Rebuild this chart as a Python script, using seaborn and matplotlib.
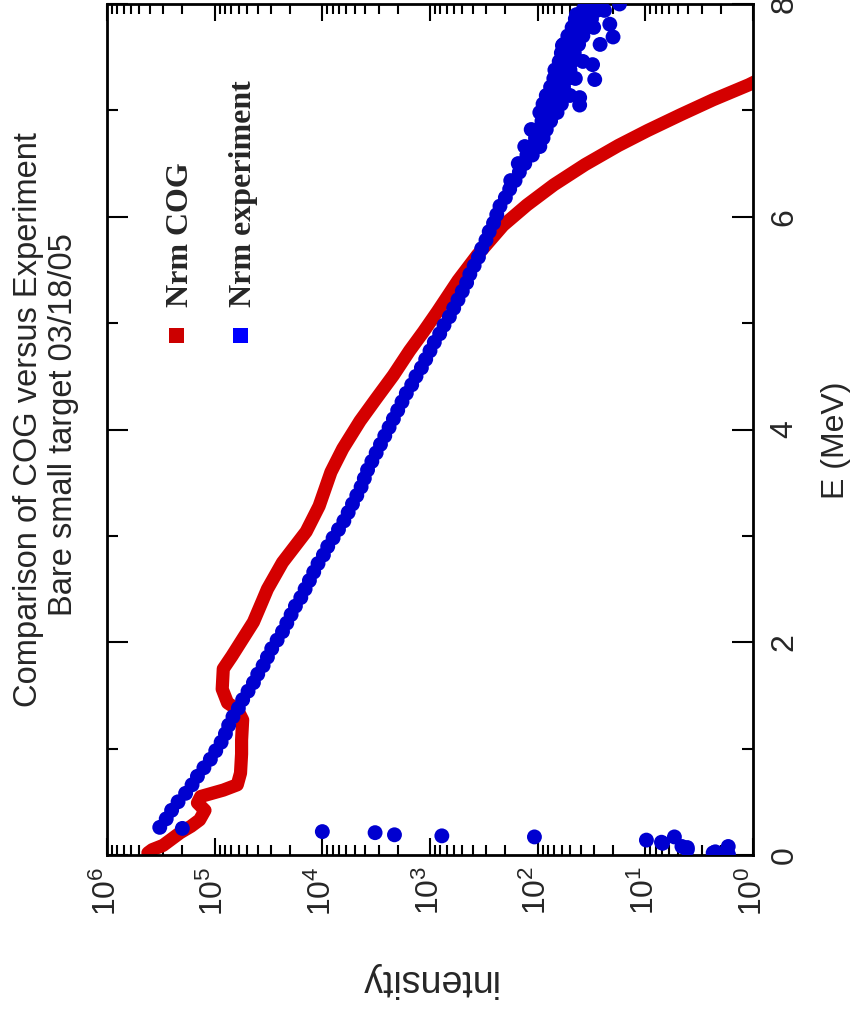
import numpy as np
import pandas as pd
import matplotlib
matplotlib.use("Agg")
import matplotlib.pyplot as plt
import seaborn as sns
from matplotlib.patches import Rectangle
from matplotlib.ticker import FixedLocator, FixedFormatter, LogLocator, NullFormatter, MultipleLocator
from matplotlib import font_manager as fm

# ---------------- data ----------------
# COG calculation: energy (MeV) and log10(intensity)
cog_E = [0.02, 0.05, 0.09, 0.15, 0.21, 0.27, 0.33, 0.42, 0.46, 0.49, 0.55, 0.61,
         0.66, 0.77, 0.95, 1.08, 1.27, 1.37, 1.43, 1.56, 1.75, 1.87, 2.03, 2.19,
         2.38, 2.50, 2.75, 3.04, 3.28, 3.60, 3.82, 4.08, 4.29, 4.51, 4.74, 4.92,
         5.11, 5.40, 5.64, 5.92, 6.11, 6.30, 6.49, 6.67, 6.81, 6.96, 7.10, 7.24, 7.29]
cog_log10_I = [5.62, 5.58, 5.48, 5.40, 5.32, 5.22, 5.14, 5.09, 5.13, 5.16, 5.13, 4.92,
               4.79, 4.76, 4.75, 4.75, 4.74, 4.79, 4.88, 4.93, 4.92, 4.84, 4.74, 4.64,
               4.56, 4.51, 4.37, 4.15, 4.03, 3.92, 3.81, 3.65, 3.50, 3.34, 3.19, 3.06,
               2.93, 2.74, 2.56, 2.32, 2.10, 1.85, 1.56, 1.25, 0.98, 0.67, 0.37, 0.04, -0.06]

# Experiment: energy (MeV) and log10(intensity)
exp_E = [0.00, 0.01, 0.02, 0.03, 0.05, 0.07, 0.08, 0.08, 0.11, 0.12, 0.14, 0.17, 0.17,
         0.18, 0.19, 0.21, 0.22, 0.25,
         0.26, 0.34, 0.42, 0.50, 0.58, 0.66, 0.74, 0.82, 0.90, 0.98, 1.06, 1.14,
         1.22, 1.30, 1.38, 1.46, 1.54, 1.62, 1.70, 1.78, 1.86, 1.94, 2.02, 2.10,
         2.18, 2.26, 2.34, 2.42, 2.50, 2.58, 2.66, 2.74, 2.82, 2.90, 2.98, 3.06,
         3.14, 3.22, 3.30, 3.38, 3.46, 3.54, 3.62, 3.70, 3.78, 3.86, 3.94, 4.02,
         4.10, 4.18, 4.26, 4.34, 4.42, 4.50, 4.58, 4.66, 4.74, 4.82, 4.90, 4.98,
         5.06, 5.14, 5.22, 5.30, 5.38, 5.46, 5.54, 5.62, 5.70, 5.78, 5.86, 5.94,
         6.02, 6.10, 6.18, 6.26, 6.34, 6.34, 6.42, 6.50, 6.50, 6.58, 6.58,
         6.66, 6.66, 6.66, 6.74, 6.74, 6.82, 6.82, 6.82, 6.90, 6.90,
         6.98, 6.98, 6.98, 7.05, 7.06, 7.06, 7.06, 7.12, 7.14, 7.14, 7.14, 7.14,
         7.22, 7.22, 7.22, 7.29, 7.30, 7.30, 7.30, 7.30, 7.38, 7.38, 7.38, 7.43,
         7.46, 7.46, 7.46, 7.46, 7.54, 7.54, 7.54, 7.61, 7.62, 7.62, 7.62, 7.62,
         7.69, 7.70, 7.70, 7.70, 7.78, 7.78, 7.78, 7.78, 7.81, 7.86, 7.86, 7.86,
         7.90, 7.94, 7.94, 7.94, 7.94, 8.00, 8.00, 8.00, 8.00]
exp_log10_I = [0.23, 0.23, 0.37, 0.35, 0.61, 0.61, 0.66, 0.23, 0.84, 0.85, 0.99, 0.73, 2.03,
               2.89, 3.33, 3.51, 4.00, 5.30,
               5.51, 5.45, 5.40, 5.34, 5.27, 5.21, 5.16, 5.10, 5.04, 4.99, 4.94, 4.90,
               4.87, 4.83, 4.78, 4.74, 4.69, 4.64, 4.60, 4.55, 4.51, 4.47, 4.42, 4.37,
               4.33, 4.29, 4.25, 4.20, 4.16, 4.12, 4.08, 4.04, 3.99, 3.95, 3.90, 3.85,
               3.80, 3.76, 3.72, 3.68, 3.64, 3.61, 3.58, 3.54, 3.50, 3.46, 3.42, 3.38,
               3.34, 3.30, 3.26, 3.22, 3.17, 3.13, 3.08, 3.04, 3.00, 2.96, 2.91, 2.87,
               2.82, 2.78, 2.74, 2.70, 2.66, 2.63, 2.59, 2.55, 2.52, 2.48, 2.45, 2.41,
               2.38, 2.35, 2.30, 2.26, 2.21, 2.25, 2.17, 2.12, 2.18, 2.10, 2.05,
               2.06, 2.12, 1.98, 2.02, 1.95, 2.00, 2.06, 1.92, 1.96, 1.88,
               1.90, 1.98, 1.82, 1.61, 1.88, 1.95, 1.78, 1.61, 1.86, 1.80, 1.92, 1.70,
               1.82, 1.76, 1.88, 1.47, 1.79, 1.85, 1.72, 1.65, 1.77, 1.70, 1.84, 1.49,
               1.75, 1.80, 1.68, 1.58, 1.73, 1.66, 1.78, 1.77, 1.70, 1.62, 1.76, 1.42,
               1.30, 1.65, 1.72, 1.58, 1.62, 1.68, 1.55, 1.48, 1.33, 1.58, 1.65, 1.50,
               1.64, 1.52, 1.58, 1.45, 1.38, 1.50, 1.56, 1.24, 1.49]

series_labels = ["Nrm COG", "Nrm experiment"]
series_colors = ["#d40000", "#0000d0"]
legend_colors = ["#cc0000", "#0000ff"]

x_tick_values = [1e6, 1e5, 1e4, 1e3, 1e2, 1e1, 1e0]
x_tick_labels = ["10$^{6}$", "10$^{5}$", "10$^{4}$", "10$^{3}$", "10$^{2}$", "10$^{1}$", "10$^{0}$"]
e_tick_values = [0, 2, 4, 6, 8]
e_tick_labels = ["0", "2", "4", "6", "8"]

title_lines = ["Comparison of COG versus Experiment", "Bare small target 03/18/05"]

# ---------------- style ----------------
sns.set_style("ticks")
names = {f.name for f in fm.fontManager.ttflist}
sans = "Liberation Sans" if "Liberation Sans" in names else "DejaVu Sans"
title_font = "Liberation Sans Narrow" if "Liberation Sans Narrow" in names else sans
serif = "Liberation Serif" if "Liberation Serif" in names else "DejaVu Serif"
plt.rcParams["font.family"] = [sans, "DejaVu Sans"]
plt.rcParams["mathtext.default"] = "regular"
plt.rcParams["axes.linewidth"] = 2.0

W, H = 858, 1009
L, R, T, B = 107, 753, 4, 855
fig = plt.figure(figsize=(W / 100, H / 100), dpi=100)
ax = fig.add_axes([L / W, 1 - B / H, (R - L) / W, (B - T) / H])

df_cog = pd.DataFrame({"E": cog_E, "I": np.power(10.0, cog_log10_I)})
df_exp = pd.DataFrame({"E": exp_E, "I": np.power(10.0, exp_log10_I)})

sns.lineplot(data=df_cog, x="I", y="E", sort=False, estimator=None, color=series_colors[0],
             linewidth=9.5, solid_capstyle="round", solid_joinstyle="round", ax=ax, zorder=2)
sns.scatterplot(data=df_exp, x="I", y="E", color=series_colors[1], s=115, linewidth=0,
                edgecolor="none", ax=ax, zorder=3)

ax.set_xscale("log")
ax.set_xlim(1e6, 1e0)
ax.set_ylim(0, 8)

# x (intensity) axis
ax.xaxis.set_major_locator(FixedLocator(x_tick_values))
ax.xaxis.set_major_formatter(FixedFormatter(x_tick_labels))
ax.xaxis.set_minor_locator(LogLocator(base=10, subs=np.arange(2, 10), numticks=30))
ax.xaxis.set_minor_formatter(NullFormatter())
ax.tick_params(axis="x", which="both", direction="in", top=True, bottom=True,
               labelsize=23, pad=8, labelrotation=90, width=1.5, color="black")
ax.tick_params(axis="x", which="major", length=12)
ax.tick_params(axis="x", which="minor", length=7)

# y (energy) axis on the right
ax.yaxis.set_major_locator(FixedLocator(e_tick_values))
ax.yaxis.set_major_formatter(FixedFormatter(e_tick_labels))
ax.yaxis.set_minor_locator(MultipleLocator(1))
ax.tick_params(axis="y", which="both", direction="in", left=True, right=True,
               labelleft=False, labelright=True, labelsize=23, pad=12,
               labelrotation=90, width=1.5, color="black")
ax.tick_params(axis="y", which="major", length=15)
ax.tick_params(axis="y", which="minor", length=8)
plt.setp(ax.get_yticklabels(), va="center", ha="left")

for sp in ax.spines.values():
    sp.set_visible(True)
    sp.set_linewidth(2.0)
    sp.set_color("black")

ax.set_xlabel("intensity", fontsize=27, rotation=180)
ax.xaxis.set_label_coords((428 - L) / (R - L), (B - 980) / (B - T))
ax.xaxis.label.set_va("center")
ax.xaxis.label.set_ha("center")

ax.yaxis.set_label_position("right")
ax.set_ylabel("E (MeV)", fontsize=23, rotation=90)
ax.yaxis.set_label_coords((836 - L) / (R - L), (B - 440) / (B - T))
ax.yaxis.label.set_va("center")
ax.yaxis.label.set_ha("center")

# title (rotated)
fig.text(29 / W, 1 - 420 / H, title_lines[0], rotation=90, ha="center", va="center",
         fontsize=23.5, family=[title_font, "DejaVu Sans"])
fig.text(64 / W, 1 - 425 / H, title_lines[1], rotation=90, ha="center", va="center",
         fontsize=23.5, family=[title_font, "DejaVu Sans"])

# legend (rotated)
legend_sq_x = [176, 240]
legend_txt_x = [181, 243]
for col, lab, sx, tx in zip(legend_colors, series_labels, legend_sq_x, legend_txt_x):
    fig.patches.append(Rectangle(((sx - 7.5) / W, 1 - (335 + 7.5) / H), 15 / W, 15 / H,
                                 transform=fig.transFigure, facecolor=col, edgecolor="none"))
    fig.text(tx / W, 1 - 307 / H, lab, rotation=90, rotation_mode="anchor", ha="left",
             va="center", fontsize=23, family=[serif, "DejaVu Serif"], weight="bold")

fig.savefig("out.png", dpi=100)
